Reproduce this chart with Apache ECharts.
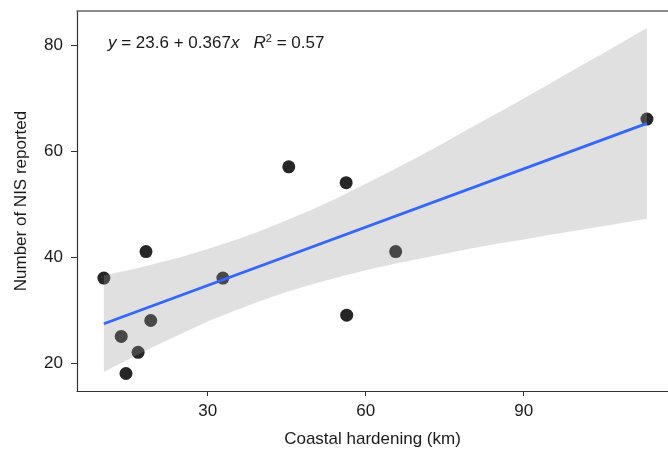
<!DOCTYPE html>
<html>
<head>
<meta charset="utf-8">
<script src="https://cdn.jsdelivr.net/npm/echarts@6/dist/echarts.min.js"></script>
<style>
  html, body { margin: 0; padding: 0; background: #fff; }
  #chart { width: 668px; height: 451px; }
</style>
</head>
<body>
<div id="chart"></div>
<script>
// coastal hardening (km) vs number of NIS reported
var hardening = [10.3, 13.6, 14.5, 16.8, 18.3, 19.2, 32.9, 45.4, 56.3, 56.4, 65.7, 113.4]
var nisCount = [36, 25, 18, 22, 41, 28, 36, 57, 54, 29, 41, 66]

// fitted line ends
var fitX = [10.3, 113.4]
var fitY = [27.4, 65.2]

// confidence band
var bandX = [10.3, 12.5, 15, 17.5, 20, 25, 30, 35, 40, 45, 50, 55, 60, 65, 70, 75, 80, 85, 90, 95, 100, 105, 113.4]
var bandLower = [18.3, 19.4, 20.7, 21.9, 23.2, 25.5, 27.8, 29.8, 31.7, 33.4, 34.9, 36.2, 37.5, 38.6, 39.6, 40.6, 41.6, 42.5, 43.3, 44.2, 45.0, 45.8, 47.2]
var bandUpper = [36.5, 37.0, 37.5, 38.1, 38.7, 40.0, 41.5, 43.1, 44.9, 46.9, 49.0, 51.3, 53.8, 56.3, 58.9, 61.6, 64.4, 67.1, 69.9, 72.7, 75.6, 78.4, 83.2]

var xTicks = [30, 60, 90]
var yTicks = [20, 40, 60, 80]

var chart = echarts.init(document.getElementById('chart'))

var font = 'Liberation Sans, Arial, Helvetica, sans-serif'

chart.setOption({
  backgroundColor: '#fff',
  animation: false,
  grid: {
    left: 77,
    right: 0,
    top: 11,
    bottom: 60,
    outerBoundsMode: 'none'
  },
  xAxis: [{
    type: 'value',
    min: 5.2,
    max: 117.4,
    name: 'Coastal hardening (km)',
    nameLocation: 'middle',
    nameGap: 40,
    nameTextStyle: { color: '#1a1a1a', fontSize: 17, fontFamily: font },
    axisLine: { lineStyle: { color: '#333', width: 1.2 } },
    axisTick: { show: true, length: 5, customValues: xTicks, lineStyle: { color: '#333' } },
    axisLabel: { customValues: xTicks, color: '#1a1a1a', fontSize: 17, fontFamily: font, margin: 12 },
    splitLine: { show: false }
  }, {
    // plain line along the top of the panel
    type: 'value',
    position: 'top',
    min: 5.2,
    max: 117.4,
    axisLine: { show: true, lineStyle: { color: '#666', width: 1.5 } },
    axisTick: { show: false },
    axisLabel: { show: false },
    splitLine: { show: false }
  }],
  yAxis: {
    type: 'value',
    min: 14.7,
    max: 86.4,
    name: 'Number of NIS reported',
    nameLocation: 'middle',
    nameGap: 47,
    nameTextStyle: { color: '#1a1a1a', fontSize: 17, fontFamily: font },
    axisLine: { show: true, lineStyle: { color: '#333', width: 1.2 } },
    axisTick: { show: true, length: 6, customValues: yTicks, lineStyle: { color: '#333' } },
    axisLabel: { customValues: yTicks, color: '#1a1a1a', fontSize: 17, fontFamily: font, margin: 14 },
    splitLine: { show: false }
  },
  graphic: [{
    type: 'text',
    left: 108,
    top: 33,
    style: {
      text: '{i|y} = 23.6 + 0.367{i|x}   {i|R}{sup|2} = 0.57',
      fill: '#1a1a1a',
      font: '17px ' + font,
      rich: {
        i: { fontStyle: 'italic', fontSize: 17, fontFamily: font, fill: '#1a1a1a' },
        sup: { fontSize: 11, fontFamily: font, fill: '#1a1a1a', verticalAlign: 'top', padding: [0, 0, 9, 0] }
      }
    }
  }],
  series: [{
    type: 'scatter',
    data: hardening.map(function(x, i) { return [x, nisCount[i]] }),
    symbolSize: 13,
    itemStyle: { color: '#262626', opacity: 1 },
    z: 2
  }, {
    // shaded band drawn over the points, like ggplot does
    type: 'custom',
    data: [[bandX[0], bandLower[0]]],
    renderItem: function(params, api) {
      var pts = []
      for (var i = 0; i < bandX.length; i++) {
        pts.push(api.coord([bandX[i], bandUpper[i]]))
      }
      for (var j = bandX.length - 1; j >= 0; j--) {
        pts.push(api.coord([bandX[j], bandLower[j]]))
      }
      return {
        type: 'polygon',
        shape: { points: pts },
        style: { fill: 'rgba(153, 153, 153, 0.3)' }
      }
    },
    silent: true,
    z: 3
  }, {
    type: 'line',
    data: fitX.map(function(x, i) { return [x, fitY[i]] }),
    showSymbol: false,
    lineStyle: { color: '#3366ff', width: 2.8 },
    z: 4
  }]
})
</script>
</body>
</html>
